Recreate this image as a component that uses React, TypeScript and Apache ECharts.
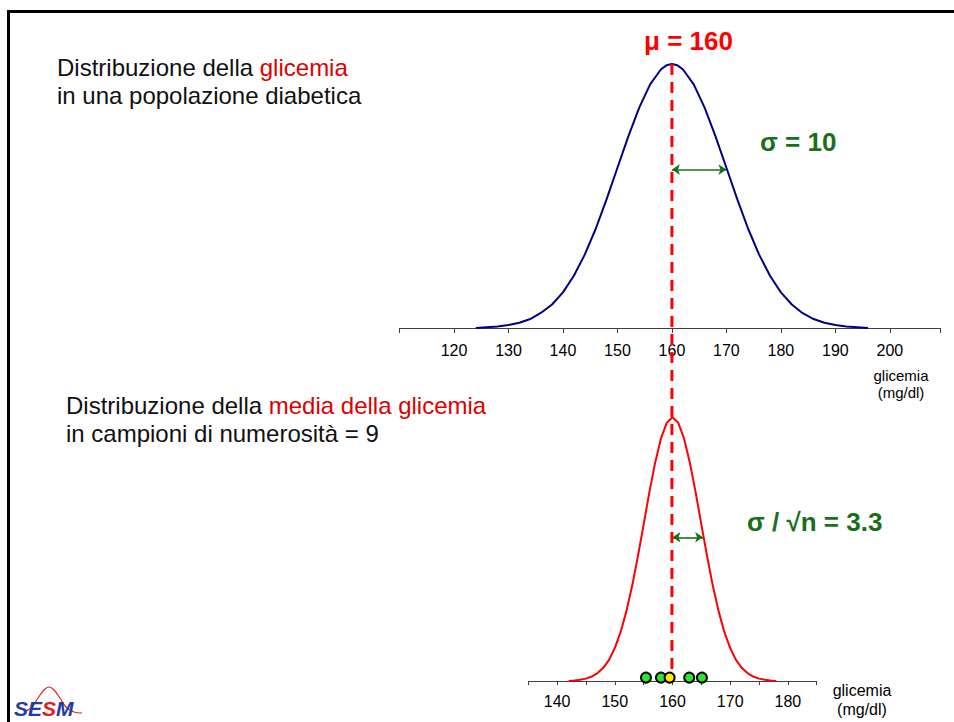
import React, { useEffect, useRef } from "react";
import * as echarts from "echarts";

// ---- data ----
const mu = 160;
const sigma = 10;
const sigmaMeanLabel = "3.3";

// population distribution (relative height, peak = 1)
const topX = [124, 126, 128, 130, 132, 134, 136, 138, 140, 142, 144, 146, 148, 150, 152, 154, 156, 158, 159, 160, 161, 162, 164, 166, 168, 170, 172, 174, 176, 178, 180, 182, 184, 186, 188, 190, 192, 194, 196];
const topY = [0.0, 0.003, 0.006, 0.011, 0.02, 0.034, 0.058, 0.089, 0.135, 0.198, 0.278, 0.375, 0.487, 0.607, 0.726, 0.835, 0.923, 0.98, 0.995, 1.0, 0.995, 0.98, 0.923, 0.835, 0.726, 0.607, 0.487, 0.375, 0.278, 0.198, 0.135, 0.089, 0.056, 0.034, 0.02, 0.011, 0.006, 0.003, 0.0];

// distribution of the sample mean (relative height, peak = 1)
const bottomX = [142, 143, 144, 145, 146, 147, 148, 149, 150, 151, 152, 153, 154, 155, 156, 157, 158, 159, 160, 161, 162, 163, 164, 165, 166, 167, 168, 169, 170, 171, 172, 173, 174, 175, 176, 177, 178];
const bottomY = [0.0, 0.002, 0.005, 0.009, 0.017, 0.03, 0.05, 0.08, 0.125, 0.185, 0.264, 0.36, 0.473, 0.594, 0.717, 0.829, 0.92, 0.979, 1.0, 0.979, 0.92, 0.829, 0.717, 0.594, 0.473, 0.36, 0.264, 0.185, 0.125, 0.08, 0.05, 0.03, 0.017, 0.009, 0.005, 0.002, 0.0];

// sample means drawn on the lower axis
const sampleMeans = [155.4, 158.0, 162.9, 165.1];
const highlightedMean = [159.5];
const dotLevel = 0.013;

// arrows: [from, to, height]
const topArrow = [160, 170, 0.6];
const bottomArrow = [160, 165.3, 0.545];

// axes
const topAxis = { min: 110, max: 209.2, interval: 10 };
const topTicks = [110, 120, 130, 140, 150, 160, 170, 180, 190, 200, 209.2];
const topTickLabels = [120, 130, 140, 150, 160, 170, 180, 190, 200];
const bottomAxis = { min: 135, max: 185, interval: 5 };
const bottomTickLabels = [140, 150, 160, 170, 180];

const FF = '"Liberation Sans", Arial, Helvetica, sans-serif';
const GREEN = "#1a6f1a";
const RED = "#ff0000";
const TXTRED = "#dd0000";

export default function App() {
  const ref = useRef<HTMLDivElement>(null);

  useEffect(() => {
    if (!ref.current) return;
    const chart = echarts.init(ref.current, null, { renderer: "svg" });

    const axisCommon = {
      type: "value" as const,
      splitLine: { show: false },
      axisLine: { show: true, onZero: false, lineStyle: { color: "#404040", width: 1 } },
    };

    const arrowLine = (a: number[]) => ({
      silent: true,
      symbol: ["arrow", "arrow"],
      symbolSize: 8,
      label: { show: false },
      lineStyle: { type: "solid", color: GREEN, width: 1.6 },
      emphasis: { disabled: true },
      data: [[{ coord: [a[0], a[2]] }, { coord: [a[1], a[2]] }]],
    });

    chart.setOption({
      animation: false,
      backgroundColor: "#ffffff",
      grid: [
        { left: 399.5, width: 540.5, top: 64, height: 264 },
        { left: 528.3, width: 288.4, top: 417.3, height: 263.7 },
      ],
      xAxis: [
        {
          ...axisCommon,
          gridIndex: 0,
          min: topAxis.min,
          max: topAxis.max,
          interval: topAxis.interval,
          axisTick: { show: true, length: 5, customValues: topTicks, lineStyle: { color: "#404040", width: 1 } },
          axisLabel: {
            margin: 14,
            fontSize: 16,
            color: "#000",
            fontFamily: FF,
            customValues: topTickLabels,
            formatter: (v: number) => (topTickLabels.includes(v) ? String(v) : ""),
          },
        },
        {
          ...axisCommon,
          gridIndex: 1,
          min: bottomAxis.min,
          max: bottomAxis.max,
          interval: bottomAxis.interval,
          axisTick: { show: true, length: 4, lineStyle: { color: "#404040", width: 1 } },
          axisLabel: {
            margin: 12,
            fontSize: 16,
            color: "#000",
            fontFamily: FF,
            formatter: (v: number) => (bottomTickLabels.includes(v) ? String(v) : ""),
          },
        },
      ],
      yAxis: [
        { type: "value", gridIndex: 0, min: 0, max: 1, show: false },
        { type: "value", gridIndex: 1, min: 0, max: 1, show: false },
      ],
      series: [
        {
          type: "line",
          xAxisIndex: 0,
          yAxisIndex: 0,
          data: topX.map((x, i) => [x, topY[i]]),
          symbol: "none",
          clip: false,
          lineStyle: { color: "#000080", width: 2 },
          z: 2,
          markLine: arrowLine(topArrow),
        },
        {
          type: "line",
          xAxisIndex: 1,
          yAxisIndex: 1,
          data: bottomX.map((x, i) => [x, bottomY[i]]),
          symbol: "none",
          clip: false,
          lineStyle: { color: RED, width: 2 },
          z: 2,
          markLine: arrowLine(bottomArrow),
        },
        {
          type: "scatter",
          xAxisIndex: 1,
          yAxisIndex: 1,
          data: sampleMeans.map((x) => [x, dotLevel]),
          symbolSize: 10,
          clip: false,
          itemStyle: { color: "#2ee62e", borderColor: "#000", borderWidth: 2, opacity: 1 },
          z: 20,
        },
        {
          type: "scatter",
          xAxisIndex: 1,
          yAxisIndex: 1,
          data: highlightedMean.map((x) => [x, dotLevel]),
          symbolSize: 10,
          clip: false,
          itemStyle: { color: "#ffee00", borderColor: "#000", borderWidth: 2, opacity: 1 },
          z: 21,
        },
      ],
    });

    const pTop = chart.convertToPixel({ xAxisIndex: 0, yAxisIndex: 0 }, [mu, 1]) as number[];
    const pBot = chart.convertToPixel({ xAxisIndex: 1, yAxisIndex: 1 }, [mu, 0]) as number[];

    chart.setOption({
      graphic: [
        // frame
        { type: "line", shape: { x1: 7, y1: 11.5, x2: 954, y2: 11.5 }, style: { stroke: "#000", lineWidth: 3 }, z: 1 },
        { type: "line", shape: { x1: 8.5, y1: 10, x2: 8.5, y2: 722 }, style: { stroke: "#000", lineWidth: 3 }, z: 1 },
        // mean line
        {
          type: "line",
          shape: { x1: pTop[0], y1: pTop[1], x2: pTop[0], y2: pBot[1] + 2 },
          style: { stroke: RED, lineWidth: 3, lineDash: [11, 7] },
          z: 10,
        },
        // titles
        {
          type: "text",
          x: 57,
          y: 54,
          style: {
            text: "{k|Distribuzione della }{r|glicemia}\n{k|in una popolazione diabetica}",
            verticalAlign: "top",
            rich: {
              k: { fill: "#111", fontSize: 24, fontFamily: FF, lineHeight: 27.5 },
              r: { fill: TXTRED, fontSize: 24, fontFamily: FF, lineHeight: 27.5 },
            },
          },
          z: 5,
        },
        {
          type: "text",
          x: 66,
          y: 391,
          style: {
            text: "{k|Distribuzione della }{r|media della glicemia}\n{k|in campioni di numerosità = 9}",
            verticalAlign: "top",
            rich: {
              k: { fill: "#111", fontSize: 24, fontFamily: FF, lineHeight: 28 },
              r: { fill: TXTRED, fontSize: 24, fontFamily: FF, lineHeight: 28 },
            },
          },
          z: 5,
        },
        {
          type: "text",
          x: 688.5,
          y: 41,
          style: { text: `μ = ${mu}`, fill: RED, font: `bold 26px ${FF}`, align: "center", verticalAlign: "middle" },
          z: 5,
        },
        {
          type: "text",
          x: 760,
          y: 142,
          style: { text: `σ = ${sigma}`, fill: GREEN, font: `bold 26px ${FF}`, align: "left", verticalAlign: "middle" },
          z: 5,
        },
        {
          type: "text",
          x: 747,
          y: 522,
          style: { text: `σ / √n = ${sigmaMeanLabel}`, fill: GREEN, font: `bold 26px ${FF}`, align: "left", verticalAlign: "middle" },
          z: 5,
        },
        // axis names
        {
          type: "text",
          x: 901,
          y: 384,
          style: { text: "glicemia\n(mg/dl)", fill: "#000", font: `15px ${FF}`, lineHeight: 17, align: "center", verticalAlign: "middle" },
          z: 5,
        },
        {
          type: "text",
          x: 862,
          y: 700,
          style: { text: "glicemia\n(mg/dl)", fill: "#000", font: `16px ${FF}`, lineHeight: 18.5, align: "center", verticalAlign: "middle" },
          z: 5,
        },
        // logo
        {
          type: "polyline",
          shape: {
            points: [[24, 712], [32, 707], [38, 698], [44, 690], [49, 687], [54, 690], [60, 698], [66, 707], [74, 712], [82, 713]],
            smooth: 0.4,
          },
          style: { stroke: "#e02020", lineWidth: 1.2, fill: null },
          z: 5,
        },
        {
          type: "text",
          x: 14,
          y: 708,
          style: {
            text: "{b|SE}{r|S}{b|M}",
            verticalAlign: "middle",
            rich: {
              b: { fill: "#1f3f9f", font: `italic 900 21px ${FF}` },
              r: { fill: "#e02020", font: `italic 900 21px ${FF}` },
            },
          },
          z: 6,
        },
      ],
    });

    return () => chart.dispose();
  }, []);

  return (
    <div
      ref={ref}
      style={{ position: "absolute", left: 0, top: 0, width: 954, height: 722, background: "#fff" }}
    />
  );
}
